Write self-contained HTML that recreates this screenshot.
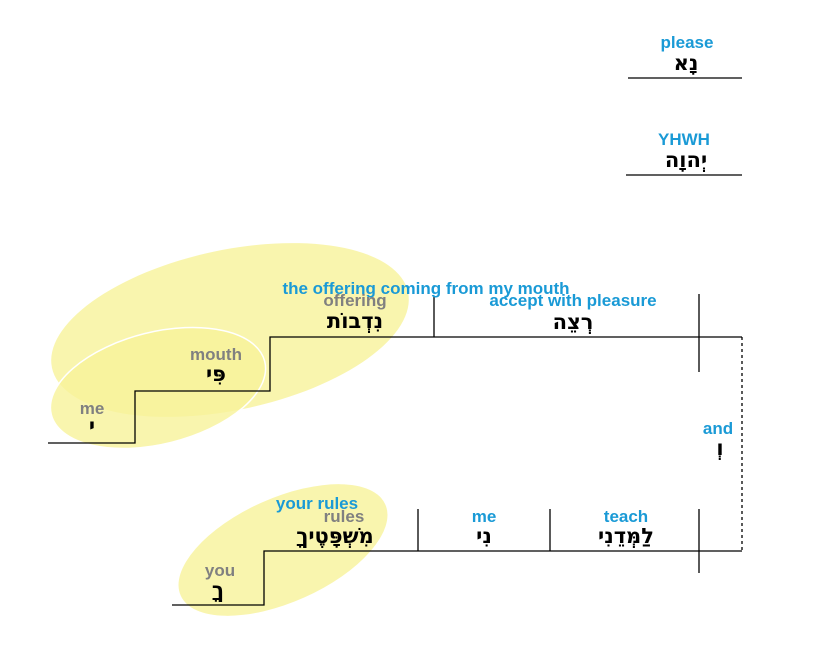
<!DOCTYPE html>
<html><head><meta charset="utf-8"><style>
html,body{margin:0;padding:0;background:#fff;}
svg{display:block}
.b{fill:#1a9ad6;font:bold 17px "Liberation Sans",sans-serif;}
.g{fill:#808080;font:bold 17px "Liberation Sans",sans-serif;}
.h{fill:#000;font:bold 21px "DejaVu Sans",sans-serif;}
</style></head><body>
<svg width="825" height="654" viewBox="0 0 825 654" xmlns="http://www.w3.org/2000/svg" text-anchor="middle">
<g fill="#f7f39a" fill-opacity="0.8">
<ellipse cx="230" cy="330" rx="182" ry="80" transform="rotate(-12 230 330)"/>
<ellipse cx="158" cy="388" rx="110" ry="56" transform="rotate(-14 158 388)" stroke="#fff" stroke-width="1.5"/>
<ellipse cx="283" cy="550" rx="112" ry="52" transform="rotate(-24 283 550)"/>
</g>
<g stroke="#000" stroke-width="1.3" fill="none">
<line x1="628" y1="78" x2="742" y2="78"/>
<line x1="626" y1="175" x2="742" y2="175"/>
<polyline points="48,443 135,443 135,391 270,391 270,337 742,337"/>
<line x1="434" y1="297" x2="434" y2="337"/>
<line x1="699" y1="294" x2="699" y2="372"/>
<line x1="742" y1="337" x2="742" y2="551" stroke-dasharray="3,3"/>
<polyline points="172,605 264,605 264,551 742,551"/>
<line x1="418" y1="509" x2="418" y2="551"/>
<line x1="550" y1="509" x2="550" y2="551"/>
<line x1="699" y1="509" x2="699" y2="573"/>
</g>
<text class="b" x="687" y="48">please</text>
<text class="h" x="686" y="70">נָא</text>
<text class="b" x="684" y="145">YHWH</text>
<text class="h" x="686" y="167">יְהוָה</text>
<text class="b" x="426" y="294">the offering coming from my mouth</text>
<text class="g" x="355" y="306">offering</text>
<text class="h" x="355" y="328">נִדְבוֹת</text>
<text class="b" x="573" y="306">accept with pleasure</text>
<text class="h" x="573" y="329">רְצֵה</text>
<text class="g" x="216" y="360">mouth</text>
<text class="h" x="216" y="381">פִּי</text>
<text class="g" x="92" y="414">me</text>
<text class="h" x="92" y="433">י</text>
<text class="b" x="718" y="434">and</text>
<text class="h" x="720" y="455">וְ</text>
<text class="b" x="317" y="509">your rules</text>
<text class="g" x="344" y="522">rules</text>
<text class="h" x="335" y="543">מִשְׁפָּטֶיךָ</text>
<text class="b" x="484" y="522">me</text>
<text class="h" x="484" y="543">נִי</text>
<text class="b" x="626" y="522">teach</text>
<text class="h" x="626" y="543">לַמְּדֵנִי</text>
<text class="g" x="220" y="576">you</text>
<text class="h" x="218" y="597">ךָ</text>
</svg>
</body></html>
